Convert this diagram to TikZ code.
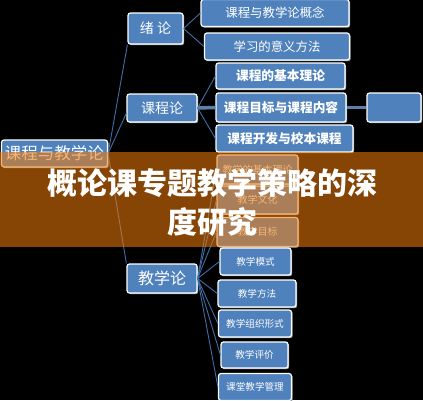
\documentclass[tikz,border=0pt]{standalone}
\usepackage{fontspec}
\setmainfont{Noto Sans CJK SC}
\usetikzlibrary{shadows}
\definecolor{boxblue}{HTML}{4F81BD}
\definecolor{linkblue}{HTML}{3F6EA8}
\definecolor{fatblue}{HTML}{5E7FA8}
\definecolor{bandorange}{RGB}{240,124,10}

\begin{document}
\begin{tikzpicture}[x=1pt,y=-1pt,
    box/.style={draw=white,line width=1.2pt,fill=boxblue,rounded corners=2.5pt,text=white,inner sep=0pt,
      drop shadow={shadow xshift=1.2pt,shadow yshift=-1.2pt,fill=black!40,opacity=1}},
    link/.style={draw=linkblue,line width=0.9pt},
    fat/.style={draw=fatblue,line width=3.5pt}]
    \useasboundingbox (0,0) rectangle (423,400);
    \fill[black] (0,0) rectangle (423,400);

    %root and main topics
    \node[box,minimum width=106pt,minimum height=27pt,font=\fontsize{16.5}{18}\selectfont] (root) at (54.5,153.5) {课程与教学论};
    \node[box,minimum width=55pt,minimum height=31pt,font=\fontsize{14}{16}\selectfont] (xulun) at (155.5,28.5) {绪 论};
    \node[box,minimum width=70pt,minimum height=28pt,font=\fontsize{14}{16}\selectfont] (kcl) at (162,108) {课程论};
    \node[box,minimum width=70pt,minimum height=29pt,font=\fontsize{16}{18}\selectfont] (jxl) at (162,278.5) {教学论};

    %xulun
    \node[box,minimum width=148pt,minimum height=27pt,font=\fontsize{12.4}{14}\selectfont] (xl1) at (275,13) {课程与教学论概念};
    \node[box,minimum width=145pt,minimum height=27pt,font=\fontsize{12.4}{14}\selectfont] (xl2) at (277,46.5) {学习的意义方法};

    %kechenglun
    \node[box,minimum width=129pt,minimum height=26pt,font=\fontsize{12.7}{14}\selectfont\bfseries] (kc1) at (280.5,76) {课程的基本理论};
    \node[box,minimum width=130pt,minimum height=29pt,font=\fontsize{12.7}{14}\selectfont\bfseries] (kc2) at (281,107.5) {课程目标与课程内容};
    \node[box,minimum width=137pt,minimum height=27pt,font=\fontsize{12.7}{14}\selectfont\bfseries] (kc3) at (284.5,138.5) {课程开发与校本课程};
    \node[box,minimum width=54pt,minimum height=29pt] (kc4) at (394,107.5) {};

    %jiaoxuelun
    \node[box,minimum width=81pt,minimum height=29pt,font=\fontsize{10}{12}\selectfont] (jx1) at (257.5,169.5) {教学的基本理论};
    \node[box,minimum width=81pt,minimum height=28pt,font=\fontsize{10}{12}\selectfont] (jx2) at (257.5,200) {教学文化};
    \node[box,minimum width=81pt,minimum height=29pt,font=\fontsize{10}{12}\selectfont] (jx3) at (257.5,232) {教学目标};
    \node[box,minimum width=71pt,minimum height=27pt,font=\fontsize{9.6}{11}\selectfont] (jx4) at (255.5,261.5) {教学模式};
    \node[box,minimum width=78pt,minimum height=27pt,font=\fontsize{9.6}{11}\selectfont] (jx5) at (257,293.5) {教学方法};
    \node[box,minimum width=73pt,minimum height=27pt,font=\fontsize{9.6}{11}\selectfont] (jx6) at (255,323.5) {教学组织形式};
    \node[box,minimum width=67pt,minimum height=26pt,font=\fontsize{9.6}{11}\selectfont] (jx7) at (254.5,355) {教学评价};
    \node[box,minimum width=73pt,minimum height=27pt,font=\fontsize{9.6}{11}\selectfont] (jx8) at (255,387) {课堂教学管理};

    %connectors
    \draw[link] (root.east) -- (xulun.south west);
    \draw[link] (root.east) -- ([yshift=-5pt]kcl.west);
    \draw[link] (root.east) -- (jxl.north west);
    \draw[link] (xulun.east) -- (xl1.west);
    \draw[link] (xulun.east) -- (xl2.west);
    \draw[link] (kcl.east) -- (kc1.west);
    \draw[fat] (kcl.east) -- (kc2.west);
    \draw[link] (kcl.east) -- (kc3.west);
    \draw[fat] (kc2.east) -- (kc4.west);
    \foreach \i in {1,...,8}
      \draw[link] (jxl.east) -- (jx\i.west);

    %band and title
    \fill[bandorange,opacity=0.56] (0,152) rectangle (423,247);
    \node[text=white,font=\fontsize{30}{39}\selectfont\bfseries,align=center] (title) at (212,202.5) {概论课专题教学策略的深\\度研究};
\end{tikzpicture}
\end{document}
